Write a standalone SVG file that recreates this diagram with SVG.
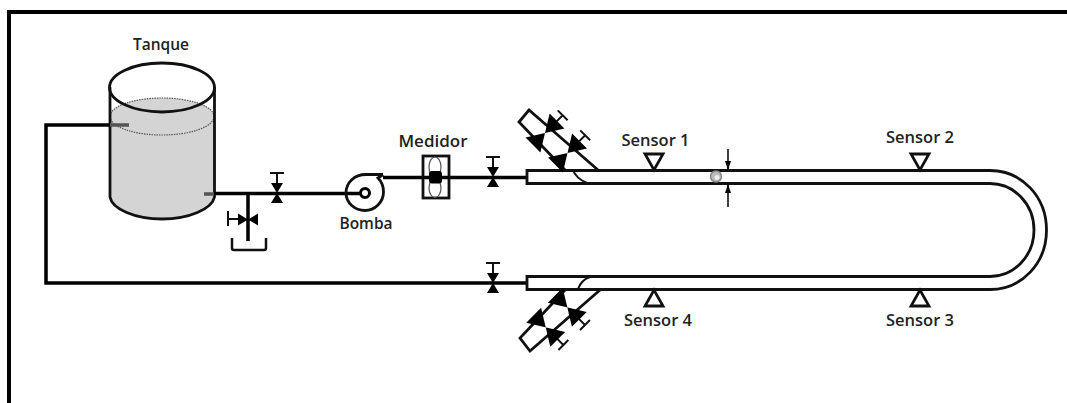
<svg xmlns="http://www.w3.org/2000/svg" width="1067" height="403" viewBox="0 0 1067 403">
<defs>
<style>
.p{fill:none;stroke:#000;stroke-width:3.5}
.t{fill:none;stroke:#111;stroke-width:2.8}
.h{fill:none;stroke:#111;stroke-width:2}
.c{fill:none;stroke:#111;stroke-width:1.6}
.v{fill:#000;stroke:none}
.s{fill:#fff;stroke:#111;stroke-width:2.8}
text{font-family:"Open Sans","Noto Sans",sans-serif;font-size:16.5px;font-weight:600;fill:#222;text-anchor:middle}
.m{font-size:15.5px}
.l{font-size:17px}
</style>
<g id="vv"><path class="h" d="M-7,-20H7M0,-20V-9"/><path class="v" d="M-6,-10H6L-6,10H6Z"/></g>
<g id="dv"><path class="h" d="M-7,-25H7M0,-25V-15"/><path class="v" d="M-10.500,-17H10.500L-10.500,17H10.500Z"/></g>
</defs>
<rect width="1067" height="403" fill="#fff"/>
<path id="frame" d="M9,403V12H1067" fill="none" stroke="#000" stroke-width="4"/>
<g id="tanque">
<path d="M110,116C110,106 134,98 162,98C190,98 214,106 214,116V197C212,209 189,219 162,219C135,219 112,209 110,197Z" fill="#d4d4d4" stroke="none"/>
<ellipse cx="162" cy="116.500" rx="52" ry="18.500" fill="none" stroke="#555" stroke-width="1.200" stroke-dasharray="1.500 1"/>
<ellipse class="t" cx="162" cy="87.500" rx="52.500" ry="24.500"/>
<path class="t" d="M110,87V197C112,209 135,219 162,219C189,219 212,209 214.500,197V87"/>
<text class="m" x="161" y="50">Tanque</text>
</g>
<g id="conectores">
<path class="p" d="M110,125H46V283H527"/>
<path d="M110,125H129" stroke="#555" stroke-width="3.500" fill="none"/>
<path d="M204,194H214" stroke="#555" stroke-width="3.500" fill="none"/>
<path class="p" d="M214,193.500H361"/>
<path class="p" d="M248,194V241"/>
<path class="p" d="M383,177.500H527"/>
</g>
<g id="dreno">
<path class="h" style="stroke-width:2.500" d="M232,238V248Q232,250 234,250H264Q266,250 266,248V238"/>
<path class="h" d="M228,211V226M228,219H239"/>
<path class="v" d="M238,213.500V225.500L258,213.500V225.500Z"/>
</g>
<use id="valvula1" href="#vv" transform="translate(277,193)"/>
<use id="valvula2" href="#vv" transform="translate(493,177)"/>
<use id="valvula3" href="#vv" transform="translate(493,283)"/>
<g id="bomba">
<path class="t" d="M383,174.500H366C354,174.500 346,183 346,193C346,203 355,210.500 365,210.500C375,210.500 383.500,202 383.500,192C383.500,186 381,181 378,178L383,174.500"/>
<circle cx="365" cy="193" r="4.500" fill="#fff" stroke="#000" stroke-width="3"/>
<text class="m" x="366" y="229">Bomba</text>
</g>
<g id="medidor">
<rect x="423" y="156" width="26" height="42" fill="#fff" stroke="#111" stroke-width="2.800"/>
<ellipse cx="435" cy="167" rx="6" ry="10" fill="none" stroke="#555" stroke-width="1.200"/>
<ellipse cx="435" cy="188" rx="6" ry="9.500" fill="none" stroke="#555" stroke-width="1.200"/>
<path class="p" d="M423,177.500H449"/>
<rect x="429" y="171" width="13" height="12.500" rx="3" fill="#000"/>
<text class="l" x="433" y="147">Medidor</text>
</g>
<g id="tubo">
<path class="s" d="M527,170.500H990C1022,170.500 1046.500,197 1046.500,230C1046.500,263 1022,289.500 990,289.500H527V276.500H990C1014,276.500 1034,256 1034,230C1034,204 1014,183.500 990,183.500H527Z"/>
<path class="h" d="M573,170C575,176 580,180 587,183"/>
<path class="h" d="M578,289C580,283 584,279 591,276.500"/>
</g>
<g id="ramal-superior">
<path class="t" d="M565,170L519,122L529,110L598,170"/>
<use href="#dv" transform="translate(545,133) rotate(45)"/>
<use href="#dv" transform="translate(567.500,153) rotate(45)"/>
</g>
<g id="ramal-inferior">
<path class="t" d="M565,290L520,338L530,351L600,290"/>
<use href="#dv" transform="translate(567.300,307.300) rotate(135)"/>
<use href="#dv" transform="translate(545.700,327.300) rotate(135)"/>
</g>
<g id="sensor1"><path class="s" d="M645,154H663L654,170Z"/><text x="655.500" y="145.500">Sensor 1</text></g>
<g id="sensor2"><path class="s" d="M911,154H929L920,170Z"/><text x="920" y="143">Sensor 2</text></g>
<g id="sensor3"><path class="s" d="M911,306H929L920,290Z"/><text x="920" y="326">Sensor 3</text></g>
<g id="sensor4"><path class="s" d="M645,306H663L654,290Z"/><text x="658" y="326">Sensor 4</text></g>
<g id="bolha"><circle cx="716" cy="176.500" r="5.500" fill="#bbb" stroke="#888" stroke-width="1.500"/><circle cx="717" cy="177.500" r="2.500" fill="#eee"/></g>
<g id="cota">
<path class="c" d="M728,149V170M728,184V207"/>
<path class="v" d="M725,161H731L728,170ZM725,193H731L728,184Z"/>
</g>
</svg>
